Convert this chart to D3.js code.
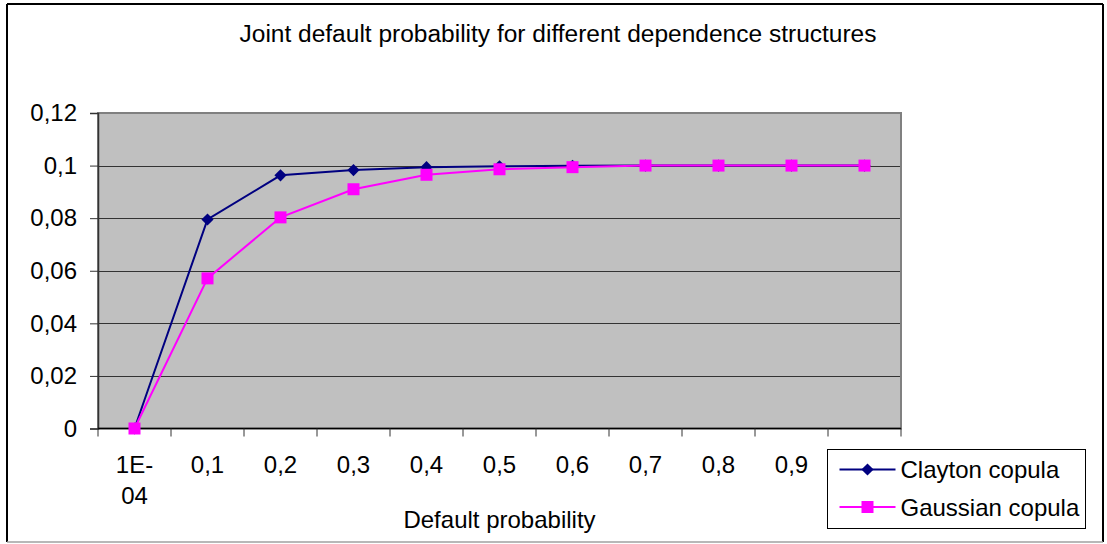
<!DOCTYPE html>
<html lang="en">
<head>
    <meta charset="UTF-8">
    <script src="https://cdn.jsdelivr.net/npm/d3@7/dist/d3.min.js"></script>
    <title>Joint default probability</title>
    <style>
        * { margin: 0; padding: 0; box-sizing: border-box; }
        body, html { width: 100%; height: 100%; background: #fff; }
        svg { display: block; font-family: "Liberation Sans", Arial, sans-serif; }
    </style>
</head>
<body>
    <svg id="chart" width="1107" height="544"></svg>
    <script type="text/javascript">
      // data
      var categories = ['1E-04', '0,1', '0,2', '0,3', '0,4', '0,5', '0,6', '0,7', '0,8', '0,9', '1'];
      var clayton = [0, 0.0795, 0.0963, 0.0983, 0.0994, 0.0997, 0.0999, 0.1, 0.1, 0.1, 0.1];
      var gaussian = [0, 0.0571, 0.0803, 0.0910, 0.0965, 0.0986, 0.0994, 0.1, 0.1, 0.1, 0.1];
      var yTicks = [0, 0.02, 0.04, 0.06, 0.08, 0.1, 0.12];

      var title = 'Joint default probability for different dependence structures';
      var xTitle = 'Default probability';
      var seriesNames = ['Clayton copula', 'Gaussian copula'];

      var plot = { left: 98, right: 901, top: 113, bottom: 428.5 };
      var fontSize = 24;

      var svg = d3.select('#chart');

      var locale = d3.formatLocale({ decimal: ',', thousands: '.', grouping: [3], currency: ['', ''] });
      var fmt = locale.format('~g');

      var x = d3.scaleBand().domain(categories).range([plot.left, plot.right]).padding(0);
      var y = d3.scaleLinear().domain([0, 0.12]).range([plot.bottom, plot.top]);

      // outer chart frame
      svg.append('line').attr('x1', 7).attr('y1', 4).attr('x2', 1103).attr('y2', 4)
        .attr('stroke', '#000').attr('stroke-width', 2);
      svg.append('line').attr('x1', 7).attr('y1', 4).attr('x2', 7).attr('y2', 542)
        .attr('stroke', '#000').attr('stroke-width', 2);
      svg.append('line').attr('x1', 1103).attr('y1', 4).attr('x2', 1103).attr('y2', 542)
        .attr('stroke', '#000').attr('stroke-width', 2);
      svg.append('line').attr('x1', 7).attr('y1', 542).attr('x2', 1103).attr('y2', 542)
        .attr('stroke', '#a0a0a0').attr('stroke-width', 1.5);

      // title
      svg.append('text')
        .attr('x', 558).attr('y', 42)
        .attr('text-anchor', 'middle')
        .attr('font-size', 23)
        .attr('textLength', 637)
        .attr('lengthAdjust', 'spacingAndGlyphs')
        .text(title);

      // plot area
      svg.append('rect')
        .attr('x', plot.left).attr('y', plot.top)
        .attr('width', plot.right - plot.left).attr('height', plot.bottom - plot.top)
        .attr('fill', '#c0c0c0');

      // gridlines
      svg.append('g').selectAll('line')
        .data(yTicks.filter(function (d) { return d > 0 && d < 0.12; }))
        .enter().append('line')
        .attr('x1', plot.left).attr('x2', plot.right)
        .attr('y1', function (d) { return Math.round(y(d)) + 0.5; })
        .attr('y2', function (d) { return Math.round(y(d)) + 0.5; })
        .attr('stroke', '#333').attr('stroke-width', 1.2);

      // plot border
      svg.append('rect')
        .attr('x', plot.left).attr('y', plot.top)
        .attr('width', plot.right - plot.left).attr('height', plot.bottom - plot.top)
        .attr('fill', 'none').attr('stroke', '#808080').attr('stroke-width', 2);

      // y axis
      var yAxis = svg.append('g')
        .attr('transform', 'translate(' + plot.left + ',0)')
        .call(d3.axisLeft(y).tickValues(yTicks).tickFormat(fmt).tickSize(8).tickPadding(13));
      yAxis.select('.domain').attr('stroke', '#333').attr('stroke-width', 1.5);
      yAxis.selectAll('.tick line').attr('stroke', '#333');
      yAxis.selectAll('text')
        .attr('font-size', fontSize)
        .attr('font-family', '"Liberation Sans", Arial, sans-serif')
        .attr('fill', '#000');

      // x axis, ticks on category boundaries
      var xAxis = svg.append('g').attr('transform', 'translate(0,' + plot.bottom + ')');
      xAxis.append('line')
        .attr('x1', plot.left).attr('x2', plot.right)
        .attr('stroke', '#000').attr('stroke-width', 1.5);
      xAxis.selectAll('.tick')
        .data(categories.concat(['end']))
        .enter().append('line')
        .attr('x1', function (d, i) { return plot.left + i * x.bandwidth(); })
        .attr('x2', function (d, i) { return plot.left + i * x.bandwidth(); })
        .attr('y1', 0).attr('y2', 8)
        .attr('stroke', '#333');

      var xLabels = xAxis.selectAll('.xlabel')
        .data(categories)
        .enter().append('text')
        .attr('class', 'xlabel')
        .attr('text-anchor', 'middle')
        .attr('font-size', fontSize)
        .attr('transform', function (d) { return 'translate(' + (x(d) + x.bandwidth() / 2) + ',44)'; });
      xLabels.each(function (d) {
        var parts = d.length > 4 ? d.split(/(?<=-)/) : [d];
        var t = d3.select(this);
        parts.forEach(function (p, i) {
          t.append('tspan').attr('x', 0).attr('dy', i === 0 ? 0 : 31).text(p);
        });
      });

      svg.append('text')
        .attr('x', (plot.left + plot.right) / 2).attr('y', 528)
        .attr('text-anchor', 'middle')
        .attr('font-size', fontSize)
        .text(xTitle);

      // series
      var line = d3.line()
        .x(function (d, i) { return x(categories[i]) + x.bandwidth() / 2; })
        .y(function (d) { return y(d); });

      var diamond = d3.symbol().type(d3.symbolDiamond2).size(95);
      var square = d3.symbol().type(d3.symbolSquare).size(144);

      var series = [
        { name: seriesNames[0], values: clayton, color: '#000080', symbol: diamond },
        { name: seriesNames[1], values: gaussian, color: '#ff00ff', symbol: square }
      ];

      series.forEach(function (s) {
        svg.append('path')
          .datum(s.values)
          .attr('d', line)
          .attr('fill', 'none')
          .attr('stroke', s.color)
          .attr('stroke-width', 2);
        svg.append('g').selectAll('path')
          .data(s.values)
          .enter().append('path')
          .attr('d', s.symbol)
          .attr('fill', s.color)
          .attr('transform', function (d, i) {
            return 'translate(' + (x(categories[i]) + x.bandwidth() / 2) + ',' + y(d) + ')';
          });
      });

      // legend
      var legend = svg.append('g').attr('transform', 'translate(827.5,449.5)');
      legend.append('rect')
        .attr('width', 258).attr('height', 79)
        .attr('fill', '#fff').attr('stroke', '#000').attr('stroke-width', 1);
      series.forEach(function (s, i) {
        var ly = 20 + i * 37.5;
        legend.append('line')
          .attr('x1', 12).attr('x2', 68).attr('y1', ly).attr('y2', ly)
          .attr('stroke', s.color).attr('stroke-width', 2);
        legend.append('path')
          .attr('d', s.symbol)
          .attr('fill', s.color)
          .attr('transform', 'translate(40,' + ly + ')');
        legend.append('text')
          .attr('x', 73).attr('y', ly + 8.5)
          .attr('font-size', fontSize)
          .text(s.name);
      });
    </script>
</body>
</html>
